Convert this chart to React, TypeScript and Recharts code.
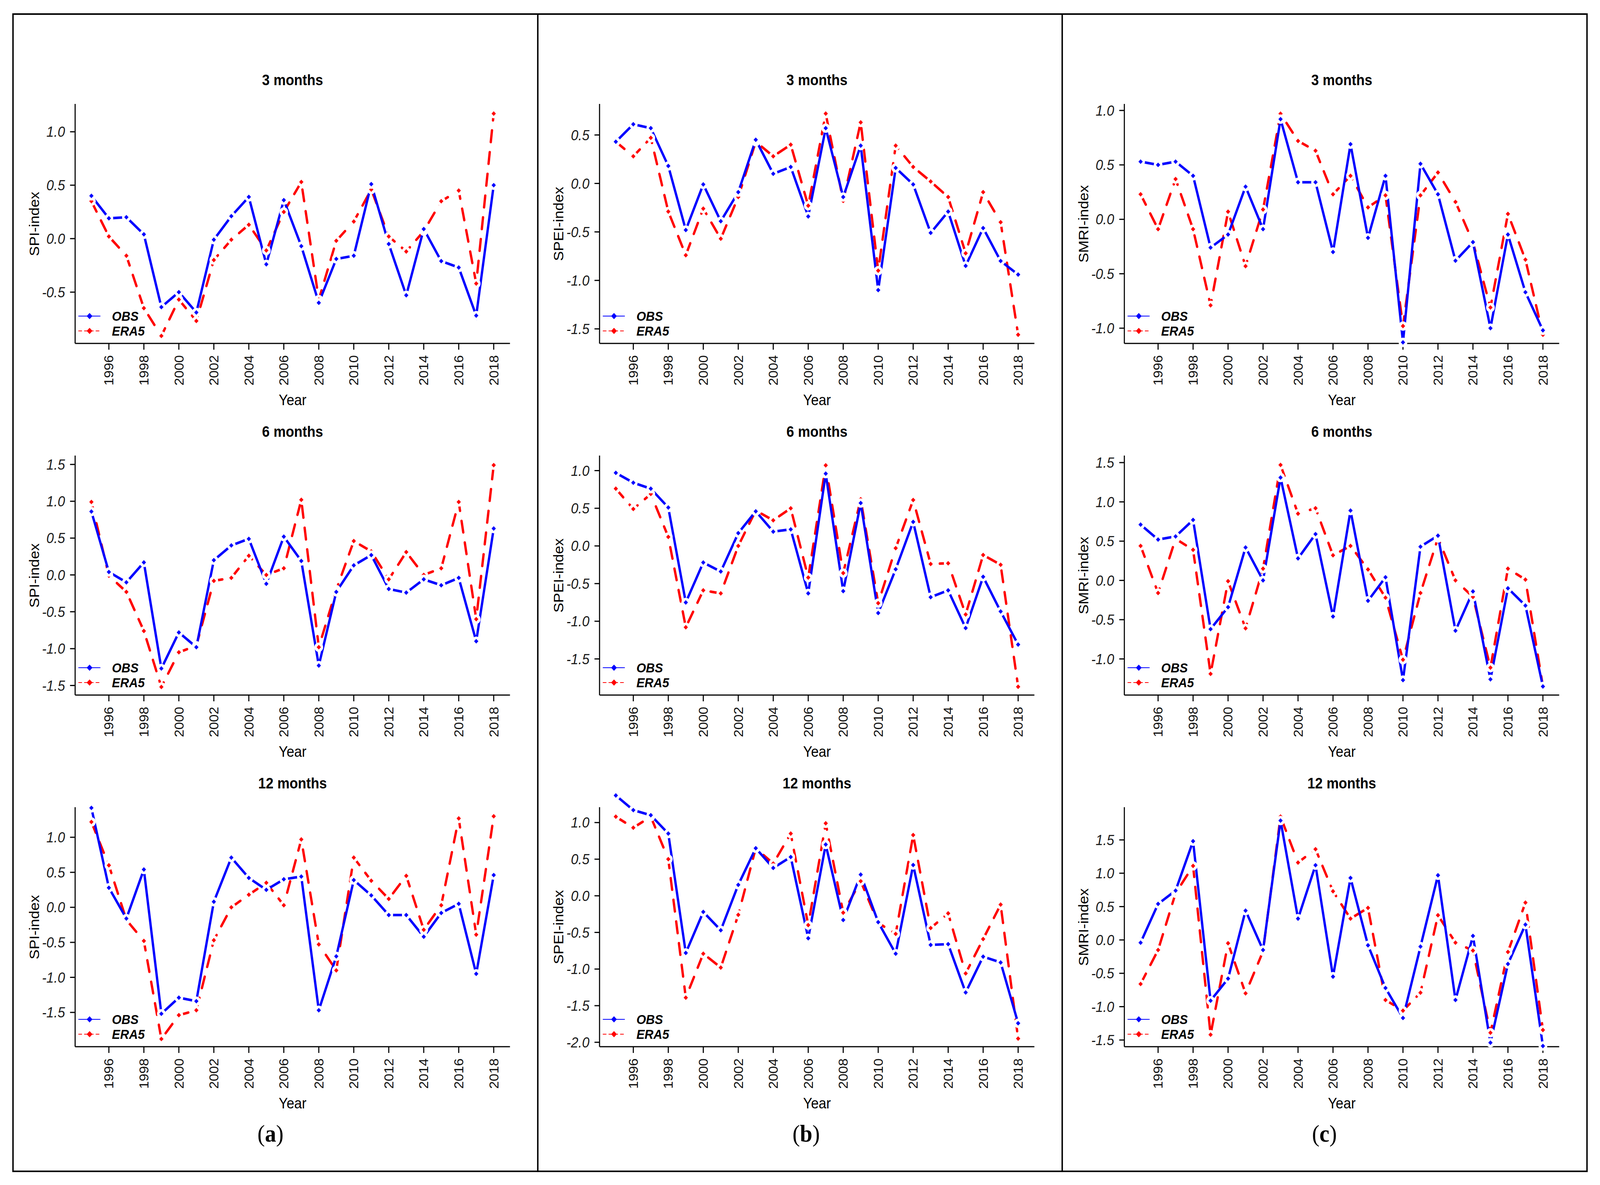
import { LineChart, Line, XAxis, YAxis, ReferenceLine } from "recharts";

// years on the x axis
const years = [
  1995, 1996, 1997, 1998, 1999, 2000, 2001, 2002, 2003, 2004, 2005, 2006,
  2007, 2008, 2009, 2010, 2011, 2012, 2013, 2014, 2015, 2016, 2017, 2018,
];
const yearTicks = [1996, 1998, 2000, 2002, 2004, 2006, 2008, 2010, 2012, 2014, 2016, 2018];

// (a) SPI
const spi3Obs = [0.40, 0.19, 0.20, 0.04, -0.64, -0.50, -0.69, -0.01, 0.21, 0.39, -0.24, 0.36, -0.07, -0.60, -0.19, -0.16, 0.51, -0.05, -0.53, 0.09, -0.21, -0.27, -0.72, 0.50];
const spi3Era = [0.35, 0.02, -0.16, -0.65, -0.91, -0.57, -0.77, -0.20, -0.01, 0.13, -0.11, 0.25, 0.53, -0.57, -0.02, 0.16, 0.46, 0.02, -0.12, 0.07, 0.35, 0.45, -0.42, 1.17];
const spi6Obs = [0.86, 0.04, -0.10, 0.17, -1.27, -0.78, -0.98, 0.20, 0.40, 0.49, -0.12, 0.52, 0.19, -1.23, -0.23, 0.13, 0.27, -0.19, -0.24, -0.06, -0.14, -0.04, -0.90, 0.63];
const spi6Era = [0.99, -0.01, -0.23, -0.76, -1.52, -1.05, -0.96, -0.08, -0.04, 0.26, 0.00, 0.09, 1.02, -0.98, -0.20, 0.46, 0.32, -0.06, 0.31, 0.00, 0.09, 0.99, -0.60, 1.49];
const spi12Obs = [1.42, 0.28, -0.16, 0.54, -1.52, -1.29, -1.34, 0.08, 0.71, 0.42, 0.25, 0.40, 0.44, -1.47, -0.70, 0.39, 0.17, -0.11, -0.11, -0.42, -0.08, 0.05, -0.95, 0.46];
const spi12Era = [1.22, 0.60, -0.18, -0.48, -1.88, -1.54, -1.47, -0.47, 0.00, 0.18, 0.35, 0.03, 0.97, -0.53, -0.90, 0.71, 0.38, 0.12, 0.45, -0.32, 0.03, 1.27, -0.39, 1.30];

// (b) SPEI
const spei3Obs = [0.43, 0.61, 0.57, 0.18, -0.48, -0.01, -0.39, -0.09, 0.45, 0.10, 0.17, -0.34, 0.57, -0.14, 0.39, -1.10, 0.16, -0.01, -0.51, -0.29, -0.85, -0.46, -0.80, -0.94];
const spei3Era = [0.43, 0.28, 0.47, -0.29, -0.74, -0.26, -0.57, -0.14, 0.43, 0.28, 0.40, -0.23, 0.72, -0.18, 0.63, -0.90, 0.39, 0.17, 0.02, -0.14, -0.72, -0.09, -0.40, -1.56];
const spei6Obs = [0.97, 0.84, 0.76, 0.51, -0.75, -0.22, -0.34, 0.17, 0.46, 0.19, 0.22, -0.63, 0.96, -0.60, 0.57, -0.89, -0.31, 0.32, -0.68, -0.59, -1.09, -0.41, -0.87, -1.31];
const spei6Era = [0.76, 0.49, 0.69, 0.12, -1.08, -0.59, -0.63, 0.00, 0.47, 0.34, 0.50, -0.42, 1.07, -0.36, 0.62, -0.76, -0.03, 0.61, -0.24, -0.23, -0.91, -0.12, -0.25, -1.87];
const spei12Obs = [1.37, 1.17, 1.10, 0.85, -0.78, -0.22, -0.47, 0.15, 0.65, 0.38, 0.53, -0.58, 0.70, -0.33, 0.29, -0.36, -0.79, 0.42, -0.67, -0.66, -1.32, -0.83, -0.91, -1.74];
const spei12Era = [1.08, 0.93, 1.08, 0.50, -1.39, -0.79, -0.98, -0.26, 0.65, 0.44, 0.85, -0.40, 0.99, -0.23, 0.20, -0.37, -0.52, 0.83, -0.44, -0.24, -1.06, -0.59, -0.12, -1.95];

// (c) SMRI
const smri3Obs = [0.53, 0.50, 0.53, 0.40, -0.26, -0.14, 0.30, -0.09, 0.92, 0.34, 0.34, -0.30, 0.69, -0.17, 0.40, -1.13, 0.51, 0.23, -0.38, -0.21, -1.00, -0.14, -0.67, -1.02];
const smri3Era = [0.23, -0.09, 0.37, -0.09, -0.79, 0.07, -0.43, 0.09, 0.97, 0.72, 0.63, 0.23, 0.40, 0.11, 0.22, -0.98, 0.22, 0.43, 0.16, -0.21, -0.81, 0.05, -0.37, -1.06];
const smri6Obs = [0.71, 0.52, 0.56, 0.77, -0.62, -0.34, 0.42, 0.00, 1.31, 0.28, 0.59, -0.46, 0.89, -0.26, 0.04, -1.27, 0.43, 0.57, -0.64, -0.14, -1.26, -0.10, -0.32, -1.35];
const smri6Era = [0.44, -0.16, 0.53, 0.39, -1.19, -0.01, -0.61, 0.15, 1.47, 0.85, 0.92, 0.32, 0.44, 0.14, -0.22, -1.01, -0.16, 0.54, 0.00, -0.21, -1.11, 0.15, 0.01, -1.35];
const smri12Obs = [-0.04, 0.54, 0.74, 1.48, -0.91, -0.58, 0.44, -0.15, 1.79, 0.32, 1.12, -0.55, 0.93, -0.08, -0.72, -1.17, -0.10, 0.97, -0.90, 0.06, -1.54, -0.36, 0.23, -1.59];
const smri12Era = [-0.66, -0.15, 0.70, 1.11, -1.42, -0.05, -0.80, -0.17, 1.85, 1.16, 1.36, 0.73, 0.32, 0.48, -0.90, -1.06, -0.79, 0.37, -0.04, -0.16, -1.39, -0.18, 0.56, -1.35];

const panels = [
  { col: 0, row: 0, title: "3 months", yLabel: "SPI-index", obs: spi3Obs, era5: spi3Era, yMin: -0.98, yMax: 1.26, yTicks: [-0.5, 0, 0.5, 1] },
  { col: 0, row: 1, title: "6 months", yLabel: "SPI-index", obs: spi6Obs, era5: spi6Era, yMin: -1.63, yMax: 1.62, yTicks: [-1.5, -1, -0.5, 0, 0.5, 1, 1.5] },
  { col: 0, row: 2, title: "12 months", yLabel: "SPI-index", obs: spi12Obs, era5: spi12Era, yMin: -1.99, yMax: 1.43, yTicks: [-1.5, -1, -0.5, 0, 0.5, 1] },
  { col: 1, row: 0, title: "3 months", yLabel: "SPEI-index", obs: spei3Obs, era5: spei3Era, yMin: -1.65, yMax: 0.82, yTicks: [-1.5, -1, -0.5, 0, 0.5] },
  { col: 1, row: 1, title: "6 months", yLabel: "SPEI-index", obs: spei6Obs, era5: spei6Era, yMin: -1.98, yMax: 1.2, yTicks: [-1.5, -1, -0.5, 0, 0.5, 1] },
  { col: 1, row: 2, title: "12 months", yLabel: "SPEI-index", obs: spei12Obs, era5: spei12Era, yMin: -2.06, yMax: 1.21, yTicks: [-2, -1.5, -1, -0.5, 0, 0.5, 1] },
  { col: 2, row: 0, title: "3 months", yLabel: "SMRI-index", obs: smri3Obs, era5: smri3Era, yMin: -1.14, yMax: 1.06, yTicks: [-1, -0.5, 0, 0.5, 1] },
  { col: 2, row: 1, title: "6 months", yLabel: "SMRI-index", obs: smri6Obs, era5: smri6Era, yMin: -1.46, yMax: 1.59, yTicks: [-1, -0.5, 0, 0.5, 1, 1.5] },
  { col: 2, row: 2, title: "12 months", yLabel: "SMRI-index", obs: smri12Obs, era5: smri12Era, yMin: -1.6, yMax: 1.99, yTicks: [-1.5, -1, -0.5, 0, 0.5, 1, 1.5] },
];

const captions = ["a", "b", "c"];
const captionX = [749, 2232, 3667];

const OBS_COLOR = "#0000FF";
const ERA_COLOR = "#FF0000";
const FONT = "'Liberation Sans', Arial, sans-serif";

// figure is laid out on a 4430 x 3033 grid, then fitted to the viewport
const FIG_W = 4430;
const FIG_H = 3033;
const COL_LEFT = [208, 1660, 3113];
const ROW_TOP = [266, 1166, 2066];
const PLOT_W = 1204;
const PLOT_H = 613;
const Y_W = 150;
const X_H = 120;
const X_MIN = 1994.07;
const X_MAX = 2018.93;

const renderDot = (color: string) => (props: any) => {
  const { cx, cy, index } = props;
  if (cx == null || cy == null) return <g key={`e-${index}`} />;
  const s = 6;
  return (
    <g key={`d-${index}`}>
      <circle cx={cx} cy={cy} r={12} fill="#fff" />
      <path d={`M${cx},${cy - s}L${cx + s},${cy}L${cx},${cy + s}L${cx - s},${cy}Z`} fill={color} />
    </g>
  );
};

function YearTick({ x, y, payload }: any) {
  return (
    <g transform={`translate(${x},${y})`}>
      <text
        transform="rotate(-90)"
        textAnchor="end"
        dy="0.36em"
        fontSize={35}
        fontFamily={FONT}
        fill="#111"
      >
        {payload.value}
      </text>
    </g>
  );
}

function PanelLegend({ left, bottom }: { left: number; bottom: number }) {
  const d = (cx: number, cy: number, s: number) =>
    `M${cx},${cy - s}L${cx + s},${cy}L${cx},${cy + s}L${cx - s},${cy}Z`;
  const rows = [
    { y: 30, label: "OBS", color: OBS_COLOR, dash: undefined },
    { y: 68, label: "ERA5", color: ERA_COLOR, dash: "10 6" },
  ];
  return (
    <svg
      width={260}
      height={100}
      style={{ position: "absolute", left, top: bottom - 100 }}
    >
      {rows.map((r) => (
        <g key={r.label}>
          <line x1={9} x2={70} y1={r.y} y2={r.y} stroke={r.color} strokeWidth={2} strokeDasharray={r.dash} />
          <path d={d(40, r.y, 8)} fill={r.color} />
          <text x={102} y={r.y} dy="0.36em" fontSize={34} fontWeight="bold" fontStyle="italic" fontFamily={FONT}>
            {r.label}
          </text>
        </g>
      ))}
    </svg>
  );
}

function Panel({ p }: { p: (typeof panels)[number] }) {
  const data = years.map((year, i) => ({ year, obs: p.obs[i], era5: p.era5[i] }));
  const dataMax = Math.max(...p.obs, ...p.era5);
  const top = Math.max(p.yMax, dataMax);
  const extra = ((top - p.yMax) * PLOT_H) / (p.yMax - p.yMin);
  const plotLeft = COL_LEFT[p.col];
  const plotTop = ROW_TOP[p.row];
  const plotBottom = plotTop + PLOT_H;

  return (
    <>
      <div
        style={{
          position: "absolute",
          left: plotLeft,
          top: plotTop - 61 - 20,
          width: PLOT_W,
          textAlign: "center",
          fontSize: 38,
          lineHeight: "40px",
          fontWeight: "bold",
        }}
      >
        {p.title}
      </div>
      <div
        style={{
          position: "absolute",
          left: plotLeft - 113,
          top: plotTop + PLOT_H / 2,
          transform: "translate(-50%, -50%) rotate(-90deg)",
          whiteSpace: "nowrap",
          fontSize: 38,
          lineHeight: "40px",
        }}
      >
        {p.yLabel}
      </div>
      <div
        style={{
          position: "absolute",
          left: plotLeft,
          top: plotBottom + 145 - 20,
          width: PLOT_W,
          textAlign: "center",
          fontSize: 38,
          lineHeight: "40px",
        }}
      >
        Year
      </div>
      <div style={{ position: "absolute", left: plotLeft - Y_W, top: plotTop - extra - 20 }}>
        <LineChart
          width={Y_W + PLOT_W + 20}
          height={20 + extra + PLOT_H + X_H}
          data={data}
          margin={{ top: 20, right: 20, bottom: 0, left: 0 }}
        >
          <XAxis
            dataKey="year"
            type="number"
            domain={[X_MIN, X_MAX]}
            ticks={yearTicks}
            interval={0}
            height={X_H}
            axisLine={{ stroke: "#000", strokeWidth: 3 }}
            tickLine={{ stroke: "#000", strokeWidth: 3 }}
            tickSize={16}
            tickMargin={14}
            tick={(props: any) => <YearTick {...props} />}
          />
          <YAxis
            type="number"
            domain={[p.yMin, top]}
            ticks={p.yTicks}
            interval={0}
            width={Y_W}
            axisLine={false}
            tickLine={{ stroke: "#000", strokeWidth: 3 }}
            tickSize={14}
            tickMargin={14}
            tickFormatter={(v: number) => v.toFixed(1)}
            tick={{ fill: "#1a1a1a", fontSize: 37, fontStyle: "italic", fontFamily: FONT }}
          />
          <ReferenceLine
            segment={[
              { x: X_MIN, y: p.yMin },
              { x: X_MIN, y: p.yMax },
            ]}
            stroke="#000"
            strokeWidth={3}
            ifOverflow="visible"
          />
          <Line
            dataKey="era5"
            type="linear"
            stroke={ERA_COLOR}
            strokeWidth={6.5}
            strokeDasharray="30 26"
            strokeLinecap="round"
            dot={renderDot(ERA_COLOR)}
            activeDot={false}
            isAnimationActive={false}
          />
          <Line
            dataKey="obs"
            type="linear"
            stroke={OBS_COLOR}
            strokeWidth={6.5}
            strokeLinecap="round"
            dot={renderDot(OBS_COLOR)}
            activeDot={false}
            isAnimationActive={false}
          />
        </LineChart>
      </div>
      <PanelLegend left={plotLeft} bottom={plotBottom} />
    </>
  );
}

export default function App() {
  // the browser viewport can be narrower than the figure; fit the figure to it
  const vw = typeof window !== "undefined" ? window.innerWidth || FIG_W : FIG_W;
  const vh = typeof window !== "undefined" ? window.innerHeight || FIG_H : FIG_H;
  const sx = Math.min(1, vw / FIG_W);
  const sy = Math.min(1, vh / FIG_H);

  return (
    <div
      style={{
        position: "fixed",
        left: 0,
        top: 0,
        width: FIG_W * sx,
        height: FIG_H * sy,
        overflow: "hidden",
        background: "#fff",
      }}
    >
      <div
        style={{
          position: "absolute",
          left: 0,
          top: 0,
          width: FIG_W,
          height: FIG_H,
          background: "#fff",
          fontFamily: FONT,
          color: "#000",
          transform: `scale(${sx}, ${sy})`,
          transformOrigin: "0 0",
        }}
      >
        <div
          style={{
            position: "absolute",
            left: 34,
            top: 34,
            width: 4362,
            height: 2966,
            border: "4px solid #000",
            boxSizing: "border-box",
          }}
        />
        {[1489, 2941].map((x) => (
          <div
            key={x}
            style={{ position: "absolute", left: x - 2, top: 34, width: 4, height: 2966, background: "#000" }}
          />
        ))}
        {panels.map((p, i) => (
          <Panel key={i} p={p} />
        ))}
        {captions.map((c, i) => (
          <div
            key={c}
            style={{
              position: "absolute",
              left: captionX[i],
              top: 2901,
              transform: "translate(-50%, -50%)",
              fontFamily: "'Liberation Serif', 'Times New Roman', serif",
              fontSize: 62,
              lineHeight: "70px",
            }}
          >
            (<b>{c}</b>)
          </div>
        ))}
      </div>
    </div>
  );
}
